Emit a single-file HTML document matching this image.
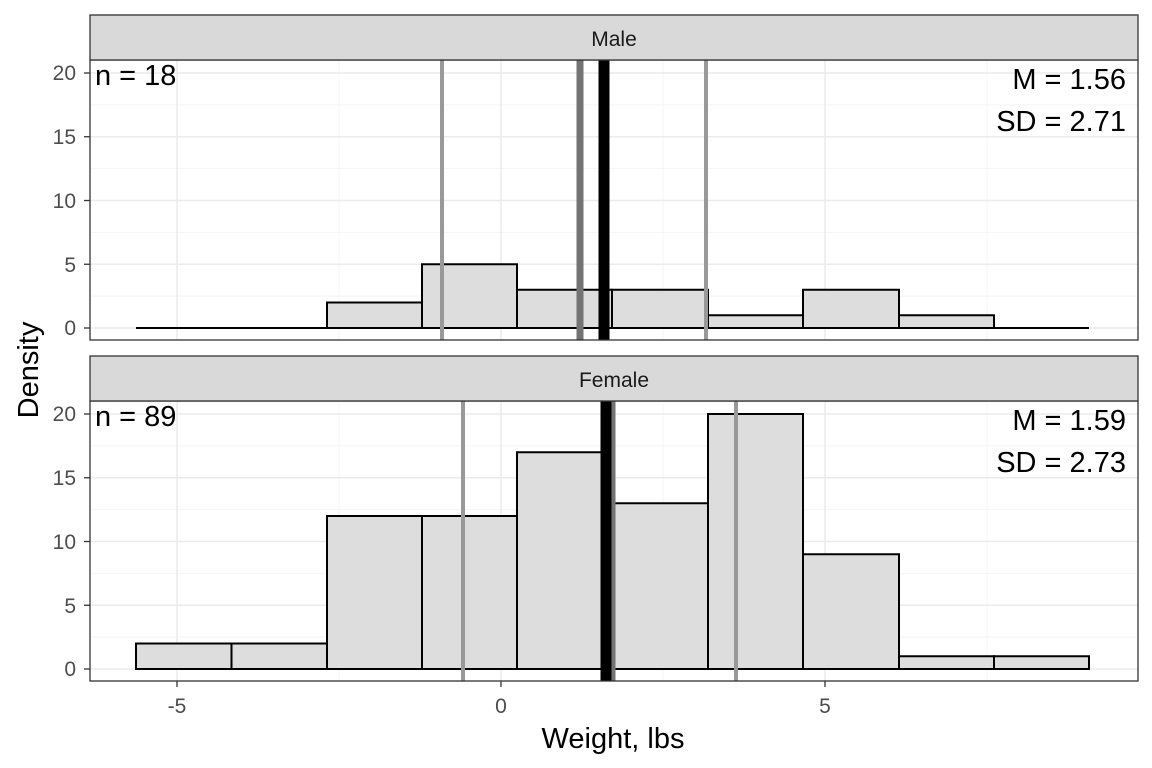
<!DOCTYPE html><html><head><meta charset="utf-8"><style>html,body{margin:0;padding:0;background:#fff}svg{display:block}text{font-family:"Liberation Sans",Arial,sans-serif}</style></head><body>
<svg width="1152" height="768" viewBox="0 0 1152 768">
<rect width="1152" height="768" fill="#fff"/>
<!-- MALE PANEL -->
<g>
<rect x="90" y="60" width="1048" height="280" fill="#fff"/>
<g stroke="#f4f4f4" stroke-width="1">
<line x1="90" x2="1138" y1="296.1" y2="296.1"/><line x1="90" x2="1138" y1="232.4" y2="232.4"/><line x1="90" x2="1138" y1="168.6" y2="168.6"/><line x1="90" x2="1138" y1="104.9" y2="104.9"/>
<line x1="339" x2="339" y1="60" y2="340"/><line x1="663" x2="663" y1="60" y2="340"/><line x1="987" x2="987" y1="60" y2="340"/>
</g>
<g stroke="#ebebeb" stroke-width="1.5">
<line x1="90" x2="1138" y1="328" y2="328"/><line x1="90" x2="1138" y1="264.25" y2="264.25"/><line x1="90" x2="1138" y1="200.5" y2="200.5"/><line x1="90" x2="1138" y1="136.75" y2="136.75"/><line x1="90" x2="1138" y1="73" y2="73"/>
<line x1="177" x2="177" y1="60" y2="340"/><line x1="501" x2="501" y1="60" y2="340"/><line x1="825" x2="825" y1="60" y2="340"/>
</g>
<g fill="#dddddd" stroke="#000" stroke-width="2">
<line x1="136" x2="327" y1="328" y2="328"/>
<rect x="327" y="302.5" width="95" height="25.5"/>
<rect x="422" y="264.25" width="95" height="63.75"/>
<rect x="517" y="289.75" width="95" height="38.25"/>
<rect x="612" y="289.75" width="96" height="38.25"/>
<rect x="708" y="315.25" width="95" height="12.75"/>
<rect x="803" y="289.75" width="96" height="38.25"/>
<rect x="899" y="315.25" width="95" height="12.75"/>
<line x1="994" x2="1089" y1="328" y2="328"/>
</g>
<line x1="442" x2="442" y1="60" y2="340" stroke="#999" stroke-width="4"/>
<line x1="706" x2="706" y1="60" y2="340" stroke="#999" stroke-width="4"/>
<line x1="580" x2="580" y1="60" y2="340" stroke="#737373" stroke-width="7"/>
<line x1="604" x2="604" y1="60" y2="340" stroke="#000" stroke-width="11"/>
<rect x="90" y="60" width="1048" height="280" fill="none" stroke="#333" stroke-width="1.3"/>
<rect x="90" y="15" width="1048" height="45" fill="#d9d9d9" stroke="#333" stroke-width="1.3"/>
<text x="614" y="46" font-size="21" text-anchor="middle" fill="#1a1a1a">Male</text>
<text x="95" y="85" font-size="29" fill="#000">n = 18</text>
<text x="1126" y="89" font-size="29" text-anchor="end" fill="#000">M = 1.56</text>
<text x="1126" y="131" font-size="29" text-anchor="end" fill="#000">SD = 2.71</text>
<g font-size="21" fill="#4d4d4d" text-anchor="end">
<text x="76" y="335">0</text><text x="76" y="272">5</text><text x="76" y="208">10</text><text x="76" y="144">15</text><text x="76" y="80">20</text>
</g>
<g stroke="#333" stroke-width="1.3">
<line x1="84" x2="90" y1="328" y2="328"/><line x1="84" x2="90" y1="264.25" y2="264.25"/><line x1="84" x2="90" y1="200.5" y2="200.5"/><line x1="84" x2="90" y1="136.75" y2="136.75"/><line x1="84" x2="90" y1="73" y2="73"/>
</g>
</g>
<!-- FEMALE PANEL -->
<g>
<rect x="90" y="401" width="1048" height="280" fill="#fff"/>
<g stroke="#f4f4f4" stroke-width="1">
<line x1="90" x2="1138" y1="637.1" y2="637.1"/><line x1="90" x2="1138" y1="573.4" y2="573.4"/><line x1="90" x2="1138" y1="509.6" y2="509.6"/><line x1="90" x2="1138" y1="445.9" y2="445.9"/>
<line x1="339" x2="339" y1="401" y2="681"/><line x1="663" x2="663" y1="401" y2="681"/><line x1="987" x2="987" y1="401" y2="681"/>
</g>
<g stroke="#ebebeb" stroke-width="1.5">
<line x1="90" x2="1138" y1="669" y2="669"/><line x1="90" x2="1138" y1="605.25" y2="605.25"/><line x1="90" x2="1138" y1="541.5" y2="541.5"/><line x1="90" x2="1138" y1="477.75" y2="477.75"/><line x1="90" x2="1138" y1="414" y2="414"/>
<line x1="177" x2="177" y1="401" y2="681"/><line x1="501" x2="501" y1="401" y2="681"/><line x1="825" x2="825" y1="401" y2="681"/>
</g>
<g fill="#dddddd" stroke="#000" stroke-width="2">
<rect x="136" y="643.5" width="95.5" height="25.5"/>
<rect x="231.5" y="643.5" width="95.5" height="25.5"/>
<rect x="327" y="516" width="95" height="153"/>
<rect x="422" y="516" width="95" height="153"/>
<rect x="517" y="452.25" width="95" height="216.75"/>
<rect x="612" y="503.25" width="96" height="165.75"/>
<rect x="708" y="414" width="95" height="255"/>
<rect x="803" y="554.25" width="96" height="114.75"/>
<rect x="899" y="656.25" width="95" height="12.75"/>
<rect x="994" y="656.25" width="95" height="12.75"/>
</g>
<line x1="463" x2="463" y1="401" y2="681" stroke="#999" stroke-width="4"/>
<line x1="736" x2="736" y1="401" y2="681" stroke="#999" stroke-width="4"/>
<line x1="612" x2="612" y1="401" y2="681" stroke="#737373" stroke-width="7"/>
<line x1="606" x2="606" y1="401" y2="681" stroke="#000" stroke-width="11"/>
<rect x="90" y="401" width="1048" height="280" fill="none" stroke="#333" stroke-width="1.3"/>
<rect x="90" y="356" width="1048" height="45" fill="#d9d9d9" stroke="#333" stroke-width="1.3"/>
<text x="614" y="387" font-size="21" text-anchor="middle" fill="#1a1a1a">Female</text>
<text x="95" y="426" font-size="29" fill="#000">n = 89</text>
<text x="1126" y="430" font-size="29" text-anchor="end" fill="#000">M = 1.59</text>
<text x="1126" y="472" font-size="29" text-anchor="end" fill="#000">SD = 2.73</text>
<g font-size="21" fill="#4d4d4d" text-anchor="end">
<text x="76" y="676">0</text><text x="76" y="613">5</text><text x="76" y="549">10</text><text x="76" y="485">15</text><text x="76" y="421">20</text>
</g>
<g stroke="#333" stroke-width="1.3">
<line x1="84" x2="90" y1="669" y2="669"/><line x1="84" x2="90" y1="605.25" y2="605.25"/><line x1="84" x2="90" y1="541.5" y2="541.5"/><line x1="84" x2="90" y1="477.75" y2="477.75"/><line x1="84" x2="90" y1="414" y2="414"/>
<line x1="177" x2="177" y1="681" y2="687"/><line x1="501" x2="501" y1="681" y2="687"/><line x1="825" x2="825" y1="681" y2="687"/>
</g>
<g font-size="21" fill="#4d4d4d" text-anchor="middle">
<text x="177" y="713">-5</text><text x="501" y="713">0</text><text x="825" y="713">5</text>
</g>
</g>
<text x="613" y="748" font-size="29" text-anchor="middle" fill="#000">Weight, lbs</text>
<text transform="translate(38,370) rotate(-90)" font-size="29" text-anchor="middle" fill="#000">Density</text>
</svg>
</body></html>
